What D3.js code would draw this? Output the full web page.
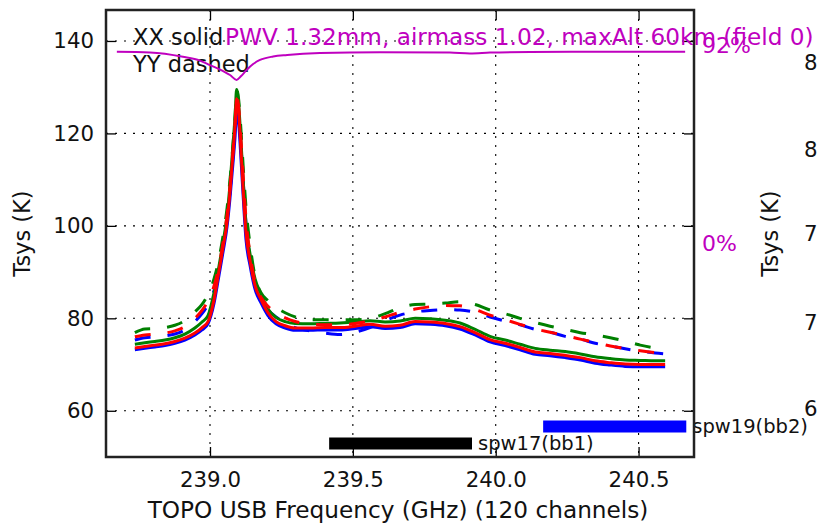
<!DOCTYPE html>
<html><head><meta charset="utf-8">
<script src="https://cdn.jsdelivr.net/npm/d3@7"></script>
<style>body{margin:0;background:#fff} svg{display:block} text{font-family:"DejaVu Sans",sans-serif}</style>
</head><body><svg id="c" width="817" height="525"></svg>
<script>
// ---- data ----
const freqGHz = [238.737,238.772,238.807,238.842,238.877,238.912,238.947,238.972,238.993,239.014,239.032,239.046,239.060,239.070,239.081,239.088,239.093,239.100,239.107,239.116,239.126,239.140,239.158,239.179,239.203,239.231,239.263,239.298,239.350,239.403,239.455,239.508,239.560,239.613,239.665,239.718,239.770,239.823,239.875,239.928,239.980,240.033,240.085,240.138,240.190,240.243,240.296,240.348,240.401,240.453,240.506,240.558,240.593];
const xxBlue  = [73.2,73.5,73.8,74.1,74.6,75.3,76.4,77.5,78.8,83.2,89.5,94.5,100,106,114,119.5,124.5,122.5,116,106.5,97,91.5,86.2,83.3,80.6,78.8,77.9,77.4,77.4,77.5,77.5,77.8,78.2,77.8,78.0,78.8,78.7,78.4,77.7,76.4,74.9,74.1,73.2,72.2,71.9,71.5,71.0,70.3,69.9,69.6,69.5,69.5,69.5];
const xxGreen = [74.4,74.7,75.0,75.3,75.8,76.6,77.9,79.2,80.6,85.5,91.5,96.5,102.5,109,118,124,129.5,126.5,120,110,100.5,94,88.5,85.2,82.0,80.2,79.3,78.9,78.8,78.9,79.0,79.2,79.5,79.2,79.4,80.0,79.9,79.6,79.0,77.6,76.1,75.3,74.4,73.5,73.1,72.8,72.3,71.7,71.3,71.0,70.9,70.8,70.8];
const xxRed   = [73.6,73.9,74.2,74.5,75.0,75.7,76.8,78.0,79.3,84.0,90.5,95.5,101,107.5,116,122,127.5,125,118,108,98.5,92.5,87,84,81.2,79.3,78.4,77.9,77.9,78.0,78.0,78.3,78.7,78.3,78.5,79.3,79.2,78.9,78.2,76.9,75.4,74.6,73.7,72.7,72.4,72.0,71.5,70.8,70.4,70.1,70.0,70.0,70.0];
const yyBlue  = [75.3,75.8,76.0,76.2,76.6,77.5,79.3,81,83,86,90.5,95.5,101.5,107.5,115.5,121,126,124,118.5,110,100.5,93,87,83.8,81.8,80.3,79.0,78.0,77.3,76.8,76.5,77.0,78.0,79.5,80.7,81.4,81.7,81.9,81.8,81.3,80.3,79.4,78.6,77.6,77.0,76.1,75.5,74.6,74.0,73.4,72.9,72.5,72.3];
const yyGreen = [76.9,77.7,77.8,78.0,78.5,79.5,81.4,83.0,85.2,88.5,93,98,104,110,118,124,129.5,127.5,122,113,104,96,89,85.5,83.8,82.4,81.2,80.3,79.7,79.7,79.7,79.7,80.0,81.0,82.3,83.0,83.1,83.3,83.6,83.0,81.8,81.0,80.0,79.1,78.3,77.6,76.9,76.4,75.8,75.1,74.2,73.6,73.3];
const yyRed   = [76.0,76.4,76.6,76.8,77.3,78.2,80.0,81.7,83.8,87,91.5,96.5,102.5,108.5,116.5,122.5,128,126,120,111,101.5,94,87.8,84.5,82.6,81.2,80.1,79.3,78.8,78.6,78.6,78.9,79.4,80.3,81.3,82.0,82.5,82.8,82.7,81.9,80.7,79.7,78.7,77.7,77.0,76.3,75.5,74.8,74.0,73.5,73.0,72.6,72.4];
const atmFreq  = [238.674,238.790,238.905,238.965,239.000,239.046,239.070,239.093,239.109,239.128,239.151,239.175,239.221,239.270,239.385,239.595,239.840,239.910,239.980,240.120,240.366,240.663];
const atmTrans = [92.6,92.3,90.3,88.5,86.4,83.6,81.8,79.5,81.3,84.1,86.9,88.8,90.4,91.1,92.0,92.4,92.2,91.8,92.2,92.5,92.6,92.6];
const xTicks = [239.0, 239.5, 240.0, 240.5];
const yTicks = [60, 80, 100, 120, 140];
const spwNames = ["spw17(bb1)", "spw19(bb2)"];
const spwLo = [239.417, 240.166];
const spwHi = [239.917, 240.667];
const spwLevel = [52.9, 56.6];
const spwColor = ["#000000", "#0000ff"];
const rightPartialTicks = ["85", "80", "75", "70", "65"];

// ---- drawing ----
const svg = d3.select("#c");
const L = 106, T = 10, R = 694, B = 457;
const x = d3.scaleLinear().domain([238.636, 240.694]).range([L, R]);
const y = d3.scaleLinear().domain([50.0, 146.7]).range([B, T]);
const yT = d3.scaleLinear().domain([-95.7, 112.0]).range([B, T]);
const magenta = "#bf00bf";

// grid
const grid = svg.append("g").attr("stroke", "#000").attr("stroke-width", 1.1).attr("stroke-dasharray", "2,7");
grid.selectAll(".gx").data(xTicks).join("line").attr("x1", d => x(d)).attr("x2", d => x(d)).attr("y1", T).attr("y2", B);
grid.selectAll(".gy").data(yTicks).join("line").attr("y1", d => y(d)).attr("y2", d => y(d)).attr("x1", L).attr("x2", R);

// axes
const fmt = d3.format(".1f");
const axB = svg.append("g").attr("transform", `translate(0,${B})`)
  .call(d3.axisBottom(x).tickValues(xTicks).tickFormat(fmt).tickSizeInner(-10).tickSizeOuter(0).tickPadding(15));
const axT = svg.append("g").attr("transform", `translate(0,${T})`)
  .call(d3.axisTop(x).tickValues(xTicks).tickFormat("").tickSizeInner(-10).tickSizeOuter(0));
const axLft = svg.append("g").attr("transform", `translate(${L},0)`)
  .call(d3.axisLeft(y).tickValues(yTicks).tickSizeInner(-10).tickSizeOuter(0).tickPadding(12));
const axRgt = svg.append("g").attr("transform", `translate(${R},0)`)
  .call(d3.axisRight(y).tickValues(yTicks).tickFormat("").tickSizeInner(-10).tickSizeOuter(0));
[axB, axT, axLft, axRgt].forEach(a => {
  a.select(".domain").remove();
  a.selectAll(".tick line").attr("stroke", "#000").attr("stroke-width", 1.3);
  a.selectAll("text").attr("font-size", 21.3).attr("fill", "#111").attr("font-family", "DejaVu Sans");
});

// spw bars
spwNames.forEach((n, i) => {
  svg.append("line").attr("x1", x(spwLo[i])).attr("x2", x(spwHi[i]))
    .attr("y1", y(spwLevel[i])).attr("y2", y(spwLevel[i]))
    .attr("stroke", spwColor[i]).attr("stroke-width", 12);
  svg.append("text").attr("x", x(spwHi[i]) + 6).attr("y", y(spwLevel[i])).attr("dy", "0.35em")
    .attr("font-size", 19.5).attr("fill", "#111").text(n);
});

// data lines
const line = d3.line().x((d, i) => x(freqGHz[i])).y(d => y(d)).curve(d3.curveMonotoneX);
const series = [
  {v: xxBlue, c: "#0000ff", dash: null},
  {v: yyBlue, c: "#0000ff", dash: "16,17"},
  {v: xxGreen, c: "#008000", dash: null},
  {v: yyGreen, c: "#008000", dash: "16,17"},
  {v: xxRed, c: "#ff0000", dash: null},
  {v: yyRed, c: "#ff0000", dash: "16,17"}
];
series.forEach(s => {
  svg.append("path").attr("d", line(s.v)).attr("fill", "none").attr("stroke", s.c)
    .attr("stroke-width", 3).attr("stroke-linejoin", "round")
    .attr("stroke-dasharray", s.dash);
});

// legend text
svg.append("text").attr("x", 133).attr("y", 45).attr("font-size", 22.5).attr("fill", "#111").text("XX solid");
svg.append("text").attr("x", 133).attr("y", 72).attr("font-size", 22.5).attr("fill", "#111").text("YY dashed");
svg.append("text").attr("x", 225).attr("y", 45).attr("font-size", 23.2).attr("fill", magenta)
  .text("PWV 1.32mm, airmass 1.02, maxAlt 60km (field 0)");

// atmospheric transmission
const atmLine = d3.line().x((d, i) => x(atmFreq[i])).y(d => yT(d)).curve(d3.curveMonotoneX);
svg.append("path").attr("d", atmLine(atmTrans)).attr("fill", "none").attr("stroke", magenta).attr("stroke-width", 2);
svg.append("text").attr("x", 702).attr("y", yT(92)).attr("font-size", 22).attr("fill", magenta).text("92%");
svg.append("text").attr("x", 702).attr("y", yT(0)).attr("font-size", 22).attr("fill", magenta).text("0%");

// frame
svg.append("rect").attr("x", L).attr("y", T).attr("width", R - L).attr("height", B - T)
  .attr("fill", "none").attr("stroke", "#222").attr("stroke-width", 2.5);

// axis labels
svg.append("text").attr("x", (L + R) / 2 - 2).attr("y", 518).attr("text-anchor", "middle")
  .attr("font-size", 23.2).attr("fill", "#111").text("TOPO USB Frequency (GHz) (120 channels)");
svg.append("text").attr("transform", `translate(30,${(T + B) / 2}) rotate(-90)`).attr("text-anchor", "middle")
  .attr("font-size", 22.5).attr("fill", "#111").text("Tsys (K)");
svg.append("text").attr("transform", `translate(778,${(T + B) / 2}) rotate(-90)`).attr("text-anchor", "middle")
  .attr("font-size", 22.5).attr("fill", "#111").text("Tsys (K)");
// partially visible tick labels of the neighbouring panel
const partialY = [63, 150, 234, 323, 409];
rightPartialTicks.forEach((t, i) => {
  svg.append("text").attr("x", 804).attr("y", partialY[i]).attr("dy", "0.35em")
    .attr("font-size", 21.3).attr("fill", "#111").text(t);
});
</script></body></html>
